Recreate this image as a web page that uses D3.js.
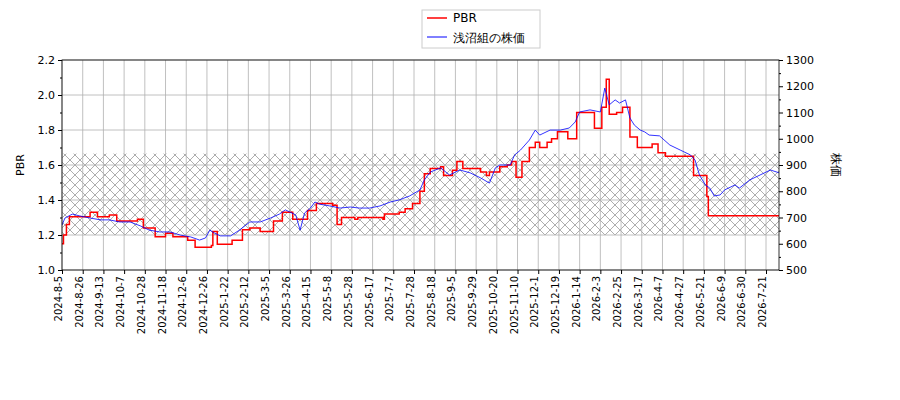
<!DOCTYPE html>
<html><head><meta charset="utf-8">
<script src="https://cdn.jsdelivr.net/npm/d3@7"></script>
<style>body{margin:0;background:#fff}text{font-family:"DejaVu Sans",sans-serif}</style>
</head><body><svg id="c" width="900" height="400"></svg>
<script>
const tickLabels=["2024-8-5","2024-8-26","2024-9-13","2024-10-7","2024-10-28","2024-11-18","2024-12-6","2024-12-26","2025-1-22","2025-2-12","2025-3-5","2025-3-26","2025-4-15","2025-5-8","2025-5-28","2025-6-17","2025-7-7","2025-7-28","2025-8-18","2025-9-5","2025-9-29","2025-10-20","2025-11-10","2025-12-1","2025-12-19","2026-1-14","2026-2-3","2026-2-25","2026-3-17","2026-4-7","2026-4-27","2026-5-21","2026-6-9","2026-6-30","2026-7-21"];
const priceIdx=[0,2,7,12,19,26,32,39,46,53,59,66,73,80,87,93,97,100,103,107,114,120,127,134,141,147,151,154,158,161,164,168,171,174,181,188,195,201,208,215,222,228,235,242,245,249,256,262,269,276,283,289,293,296,303,306,310,316,320,323,330,337,343,347,350,357,364,367,370,374,377,381,384,387,391,394,397,404,411,418,425,428,431,435,438,441,445,448,455,458,465,472,479,485];
const priceVal=[671,698,713,706,698,691,691,683,683,668,652,645,645,633,626,614,622,652,641,630,630,652,683,683,698,713,729,721,710,652,717,736,759,751,744,736,740,736,736,744,759,767,782,805,843,873,889,862,881,870,851,831,889,900,900,938,957,995,1033,1014,1033,1033,1041,1064,1102,1110,1102,1193,1129,1148,1136,1148,1079,1052,1033,1026,1014,1011,976,957,938,919,862,824,812,782,786,805,824,812,843,862,881,870];
const pbrIdx=[0,1,3,5,19,24,32,37,51,55,63,70,75,85,90,101,102,105,115,122,127,134,143,149,156,166,172,183,186,189,198,200,217,218,228,232,237,242,245,249,256,258,264,267,271,283,287,289,296,301,304,307,311,316,320,323,328,331,335,342,348,355,360,365,368,370,375,379,384,389,399,403,408,427,436,437,485];
const pbrVal=[1.15,1.20,1.26,1.305,1.33,1.305,1.314,1.28,1.29,1.24,1.19,1.21,1.19,1.17,1.13,1.14,1.22,1.147,1.17,1.23,1.24,1.22,1.28,1.33,1.29,1.34,1.38,1.37,1.26,1.30,1.29,1.30,1.29,1.32,1.33,1.35,1.38,1.45,1.55,1.58,1.59,1.54,1.57,1.62,1.58,1.56,1.54,1.56,1.59,1.60,1.62,1.53,1.62,1.70,1.73,1.70,1.73,1.75,1.79,1.75,1.90,1.90,1.81,1.93,2.09,1.89,1.90,1.93,1.76,1.70,1.72,1.67,1.65,1.54,1.42,1.31,1.31];
const band=[1.2,1.665];
const tickStep=14;

const svg=d3.select("#c");
const L=62,R=779,T=60,B=270;
const x=d3.scaleLinear().domain([0,485]).range([L,L+485*(704/(34*14))]);
const y=d3.scaleLinear().domain([1.0,2.2]).range([B,T]);
const y2=d3.scaleLinear().domain([500,1300]).range([B,T]);

const defs=svg.append("defs");
const pat=defs.append("pattern").attr("id","hatch").attr("patternUnits","userSpaceOnUse").attr("width",10).attr("height",10);
pat.append("path").attr("d","M0,0L10,10M10,0L0,10").attr("stroke","#999").attr("stroke-width",0.8);
defs.append("clipPath").attr("id","clip").append("rect").attr("x",L).attr("y",T).attr("width",R-L).attr("height",B-T);

svg.append("rect").attr("x",L).attr("y",y(band[1])).attr("width",R-L).attr("height",y(band[0])-y(band[1])).attr("fill","url(#hatch)");

const g=svg.append("g");
tickLabels.forEach((t,i)=>{g.append("line").attr("x1",x(i*tickStep)).attr("x2",x(i*tickStep)).attr("y1",T).attr("y2",B).attr("stroke","#b0b0b0").attr("stroke-width",0.8);});
d3.range(1.0,2.21,0.2).forEach(v=>{g.append("line").attr("x1",L).attr("x2",R).attr("y1",y(v)).attr("y2",y(v)).attr("stroke","#b0b0b0").attr("stroke-width",0.8);});

const cg=svg.append("g").attr("clip-path","url(#clip)");
const pbr=pbrIdx.map((d,i)=>[d,pbrVal[i]]);
cg.append("path").datum(pbr).attr("fill","none").attr("stroke","red").attr("stroke-width",1.5)
 .attr("d",d3.line().curve(d3.curveStepAfter).x(d=>x(d[0])).y(d=>y(d[1])));
const pr=priceIdx.map((d,i)=>[d,priceVal[i]]);
cg.append("path").datum(pr).attr("fill","none").attr("stroke","blue").attr("stroke-width",0.8)
 .attr("d",d3.line().x(d=>x(d[0])).y(d=>y2(d[1])));

svg.append("rect").attr("x",L).attr("y",T).attr("width",R-L).attr("height",B-T).attr("fill","none").attr("stroke","#000").attr("stroke-width",0.8);

const ax=svg.append("g").attr("transform",`translate(0,${B})`)
 .call(d3.axisBottom(x).tickValues(tickLabels.map((d,i)=>i*tickStep)).tickFormat((d,i)=>tickLabels[i]).tickSizeOuter(0).tickSize(4));
ax.selectAll("text").attr("transform","rotate(-90)").attr("text-anchor","end").attr("x",-6).attr("y",-4).attr("dy","0.35em").style("font-size","10px");
const ay=svg.append("g").attr("transform",`translate(${L},0)`).call(d3.axisLeft(y).tickValues(d3.range(1.0,2.21,0.2)).tickFormat(d3.format(".1f")).tickSizeOuter(0).tickSize(4));
svg.append("g").attr("transform",`translate(${L},0)`).call(d3.axisLeft(y).tickValues(d3.range(1.1,2.2,0.2)).tickFormat("").tickSizeOuter(0).tickSize(2));
const ay2=svg.append("g").attr("transform",`translate(${R},0)`).call(d3.axisRight(y2).tickValues(d3.range(500,1301,100)).tickFormat(d3.format("d")).tickSizeOuter(0).tickSize(4));
svg.append("g").attr("transform",`translate(${R},0)`).call(d3.axisRight(y2).tickValues(d3.range(550,1300,100)).tickFormat("").tickSizeOuter(0).tickSize(2));
svg.selectAll(".domain").remove();
[ay,ay2].forEach(a=>a.selectAll("text").style("font-size","11px"));

svg.append("text").attr("transform","translate(24,165) rotate(-90)").attr("text-anchor","middle").style("font-size","11px").text("PBR");
svg.append("text").attr("transform","translate(832,165) rotate(90)").attr("text-anchor","middle").style("font-size","12px").attr("font-family","Noto Sans CJK JP").text("株価");

const lg=svg.append("g");
lg.append("rect").attr("x",422).attr("y",10).attr("width",118).attr("height",38).attr("fill","#fff").attr("stroke","#ccc");
lg.append("line").attr("x1",427).attr("x2",447).attr("y1",18).attr("y2",18).attr("stroke","red").attr("stroke-width",1.5);
lg.append("text").attr("x",453).attr("y",22).style("font-size","12px").text("PBR");
lg.append("line").attr("x1",427).attr("x2",447).attr("y1",37).attr("y2",37).attr("stroke","blue").attr("stroke-width",1);
lg.append("text").attr("x",453).attr("y",42).style("font-size","12px").attr("font-family","Noto Sans CJK JP").text("浅沼組の株価");
</script></body></html>
